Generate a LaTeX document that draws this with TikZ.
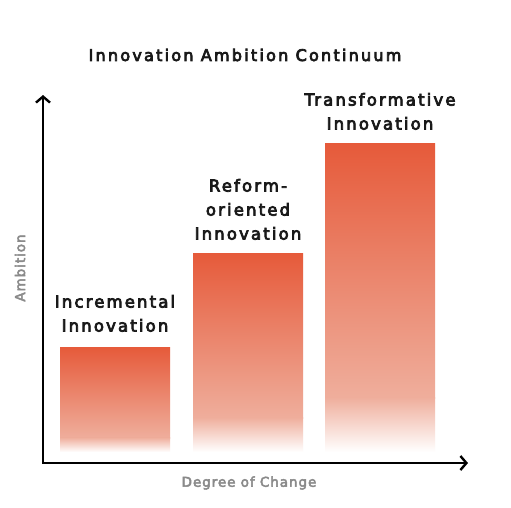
\documentclass[tikz,border=0pt]{standalone}
\usepackage{fontspec}
\usetikzlibrary{arrows.meta}
\newfontfamily\titfont[LetterSpace=14,FakeBold=4.5]{DejaVu Sans}
\newfontfamily\labfont[LetterSpace=13,FakeBold=4.5]{DejaVu Sans}
\newfontfamily\axfont[LetterSpace=7,FakeBold=3.5]{DejaVu Sans}
\definecolor{barTop}{HTML}{E65A3A}
\definecolor{barLight}{HTML}{EFAE9C}
\definecolor{axGray}{HTML}{8A8A8A}
\begin{document}
\begin{tikzpicture}[x=1pt,y=-1pt,
  axisline/.style={line width=2.4pt,line join=miter,{Straight Barb[length=6pt,width=14pt]}-{Straight Barb[length=6pt,width=14pt]}},
  barlabel/.style={anchor=south,inner sep=0pt,align=center,font=\labfont\fontsize{16.5}{24}\selectfont,text=black!90},
  axlabel/.style={inner sep=0pt,font=\axfont\fontsize{13.5}{16}\selectfont,text=axGray},
  titlestyle/.style={inner sep=0pt,font=\titfont\fontsize{16}{20}\selectfont,text=black!90}]
\useasboundingbox[fill=white] (0,0) rectangle (511,507);
% title
\node[titlestyle] (title) at (245,55) {Innovation Ambition Continuum};
% axes
\coordinate (O) at (43,463);
\coordinate (ytip) at (43,95);
\coordinate (xtip) at (468,463);
\draw[axisline] (ytip) -- (O) -- (xtip);
\node[axlabel,rotate=90] (ylab) at (20,268) {Ambition};
\node[axlabel] (xlab) at (249,483) {Degree of Change};
% bars: corners
\coordinate (b1tl) at (60,347);  \coordinate (b1g) at (170,438);  \coordinate (b1b) at (170,452);
\coordinate (b2tl) at (193,253); \coordinate (b2g) at (303,418);  \coordinate (b2b) at (303,452);
\coordinate (b3tl) at (325,143); \coordinate (b3g) at (435,398);  \coordinate (b3b) at (435,452);
% bar 1
\fill[top color=barTop,bottom color=barLight] (b1tl) rectangle (b1g);
\fill[top color=barLight,bottom color=white] (60,437.5) rectangle (b1b);
% bar 2
\fill[top color=barTop,bottom color=barLight] (b2tl) rectangle (b2g);
\fill[top color=barLight,bottom color=white] (193,417.5) rectangle (b2b);
% bar 3
\fill[top color=barTop,bottom color=barLight] (b3tl) rectangle (b3g);
\fill[top color=barLight,bottom color=white] (325,397.5) rectangle (b3b);
% labels
\node[barlabel] (l1) at (115,332) {Incremental\\Innovation};
\node[barlabel] (l2) at (248,240) {Reform-\\oriented\\Innovation};
\node[barlabel] (l3) at (380,130) {Transformative\\Innovation};
\end{tikzpicture}
\end{document}
